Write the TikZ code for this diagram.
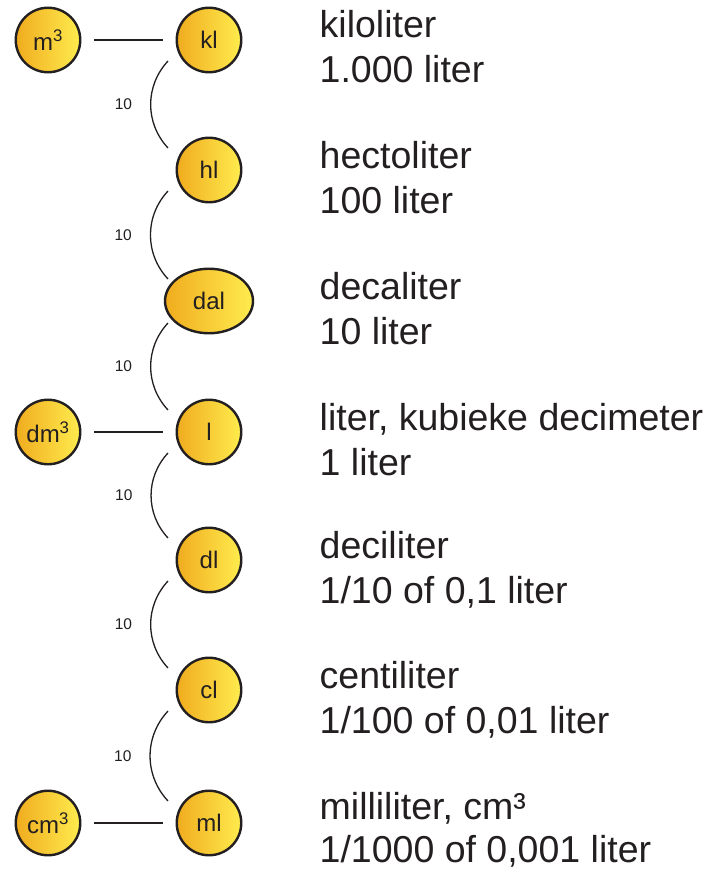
\documentclass[tikz,border=0pt]{standalone}
\usepackage{fontspec}
\setmainfont{Liberation Sans}
\usetikzlibrary{shapes.geometric}
\definecolor{unitorange}{RGB}{240,172,30}
\definecolor{unityellow}{RGB}{255,236,78}
\definecolor{inkgray}{RGB}{35,31,32}
\begin{document}
\begin{tikzpicture}[x=1pt, y=1pt,
	unit/.style={circle, draw=inkgray, line width=2.4pt, left color=unitorange,
		right color=unityellow, minimum size=64.5pt, inner sep=0pt,
		text=inkgray, font=\fontsize{24}{24}\selectfont},
	wideunit/.style={unit, ellipse, minimum width=88pt, minimum height=64.5pt},
	unitline/.style={draw=inkgray, line width=1.3pt, shorten <=13pt, shorten >=13pt},
	tenarc/.style={draw=inkgray, line width=1.3pt},
	tenlabel/.style={inner sep=0pt, left=18pt, text=inkgray, font=\fontsize{15.5}{15.5}\selectfont},
	unitname/.style={anchor=base west, inner sep=0pt, text=inkgray, font=\fontsize{37.5}{37.5}\selectfont}]
	\useasboundingbox (0,0) rectangle (712,-872);
	% Eenheden
	\node[unit] (m3) at (48,-40) {m\textsuperscript{3}};
	\node[unit] (kl) at (209,-40) {kl};
	\node[unit] (hl) at (209,-170) {hl};
	\node[wideunit] (dal) at (209,-301) {dal};
	\node[unit] (dm3) at (48,-432) {dm\textsuperscript{3}};
	\node[unit] (l) at (209,-432) {l};
	\node[unit] (dl) at (209,-560) {dl};
	\node[unit] (cl) at (209,-690) {cl};
	\node[unit] (cm3) at (48,-823) {cm\textsuperscript{3}};
	\node[unit] (ml) at (209,-823) {ml};
	% gelijke eenheden
	\draw[unitline] (m3) -- (kl);
	\draw[unitline] (dm3) -- (l);
	\draw[unitline] (cm3) -- (ml);
	% factor 10
	\draw[tenarc] ([shift={(-41,-21)}]kl.center) to[out=227, in=133]
		node[tenlabel] (kl-hl) {10} ([shift={(-41,22)}]hl.center);
	\draw[tenarc] ([shift={(-41,-21)}]hl.center) to[out=227, in=133]
		node[tenlabel] (hl-dal) {10} ([shift={(-41,22)}]dal.center);
	\draw[tenarc] ([shift={(-41,-22)}]dal.center) to[out=227, in=133]
		node[tenlabel] (dal-l) {10} ([shift={(-41,22)}]l.center);
	\draw[tenarc] ([shift={(-41,-21)}]l.center) to[out=227, in=133]
		node[tenlabel] (l-dl) {10} ([shift={(-41,22)}]dl.center);
	\draw[tenarc] ([shift={(-41,-21)}]dl.center) to[out=227, in=133]
		node[tenlabel] (dl-cl) {10} ([shift={(-41,22)}]cl.center);
	\draw[tenarc] ([shift={(-41,-21)}]cl.center) to[out=227, in=133]
		node[tenlabel] (cl-ml) {10} ([shift={(-41,22)}]ml.center);
	% Namen
	\node[unitname] (kl-name) at (319.5,-38) {kiloliter};
	\node[unitname] (kl-amount) at (319.5,-83) {1.000 liter};
	\node[unitname] (hl-name) at (319.5,-168) {hectoliter};
	\node[unitname] (hl-amount) at (319.5,-213) {100 liter};
	\node[unitname] (dal-name) at (319.5,-299) {decaliter};
	\node[unitname] (dal-amount) at (319.5,-344) {10 liter};
	\node[unitname] (l-name) at (319.5,-430) {liter, kubieke decimeter};
	\node[unitname] (l-amount) at (319.5,-475) {1 liter};
	\node[unitname] (dl-name) at (319.5,-558) {deciliter};
	\node[unitname] (dl-amount) at (319.5,-603) {1/10 of 0,1 liter};
	\node[unitname] (cl-name) at (319.5,-688) {centiliter};
	\node[unitname] (cl-amount) at (319.5,-733) {1/100 of 0,01 liter};
	\node[unitname] (ml-name) at (319.5,-819) {milliliter, cm³};
	\node[unitname] (ml-amount) at (319.5,-862) {1/1000 of 0,001 liter};
\end{tikzpicture}
\end{document}
